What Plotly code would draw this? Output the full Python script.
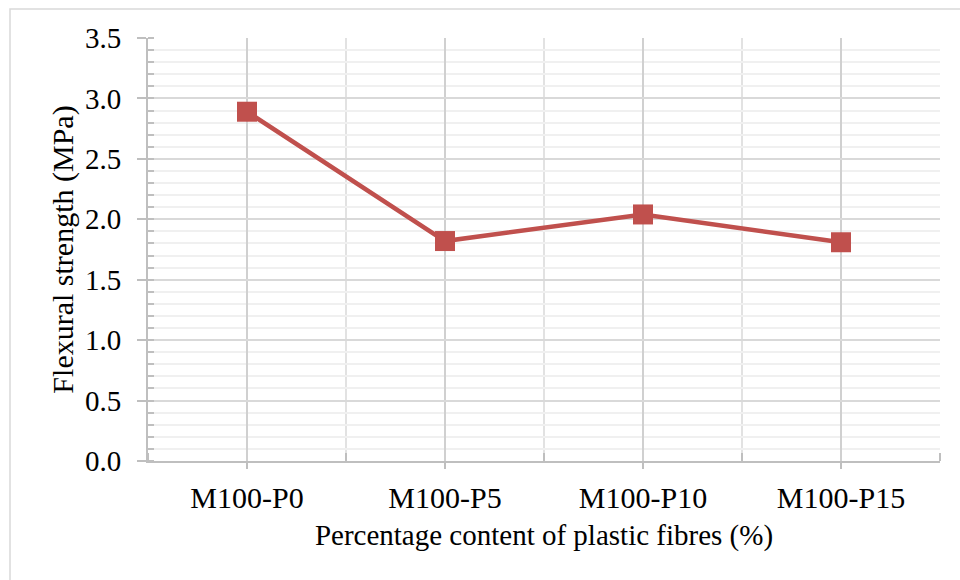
import plotly.graph_objects as go

# Flexural strength for each mix
categories = ["M100-P0", "M100-P5", "M100-P10", "M100-P15"]
strength = [2.89, 1.82, 2.04, 1.81]
y_ticks = [0.0, 0.5, 1.0, 1.5, 2.0, 2.5, 3.0, 3.5]

x_pos = list(range(len(categories)))

L, R, T, B = 148, 20, 38, 119
W, H = 960, 580
pw, ph = W - L - R, H - T - B

font_family = "Liberation Serif, Times New Roman, serif"
red = "#C0504D"

fig = go.Figure()
fig.add_trace(go.Scatter(
    x=x_pos, y=strength, mode="lines+markers",
    line=dict(color=red, width=4.5),
    marker=dict(symbol="square", size=20, color=red),
    showlegend=False, cliponaxis=False,
))

fig.update_layout(
    width=W, height=H,
    margin=dict(l=L, r=R, t=T, b=B, pad=0),
    paper_bgcolor="white", plot_bgcolor="white",
    font=dict(family=font_family, size=30, color="black"),
)

fig.update_xaxes(
    range=[-0.5, len(categories) - 0.5],
    tickvals=x_pos, ticktext=categories,
    showgrid=True, gridcolor="#d0d0d0", gridwidth=1.5,
    ticks="outside", ticklen=6, tickcolor="#bfbfbf", tickwidth=1.5,
    showline=True, linecolor="#bfbfbf", linewidth=2,
    minor=dict(tick0=-0.5, dtick=1, showgrid=True, gridcolor="#e2e2e2",
               gridwidth=1.5, ticks="inside", ticklen=8, tickcolor="#bfbfbf"),
    tickfont=dict(size=30), ticklabelstandoff=3,
    title=dict(text="Percentage content of plastic fibres (%)",
               font=dict(size=29), standoff=12),
    zeroline=False, fixedrange=True,
)

fig.update_yaxes(
    range=[0, 3.5],
    tickvals=y_ticks, ticktext=[f"{v:.1f}" for v in y_ticks],
    showgrid=True, gridcolor="#d9d9d9", gridwidth=1.5,
    ticks="outside", ticklen=9, tickcolor="#bfbfbf", tickwidth=1.5,
    showline=True, linecolor="#bfbfbf", linewidth=2,
    minor=dict(dtick=0.1, showgrid=True, gridcolor="#f0f0f0", gridwidth=1.5,
               ticks="inside", ticklen=6, tickcolor="#bfbfbf"),
    tickfont=dict(size=29), ticklabelstandoff=10,
    title=dict(text="Flexural strength (MPa)", font=dict(size=30), standoff=2),
    zeroline=False, fixedrange=True,
)

# Light outer frame of the chart area
fig.add_shape(
    type="rect", xref="paper", yref="paper",
    x0=(10 - L) / pw, x1=(W + 20 - L) / pw,
    y0=-(H + 20 - T - ph) / ph, y1=(H - B - 9) / ph,
    line=dict(color="#d9d9d9", width=1.5), fillcolor="rgba(0,0,0,0)",
    layer="below",
)

fig.write_html("out.html")
